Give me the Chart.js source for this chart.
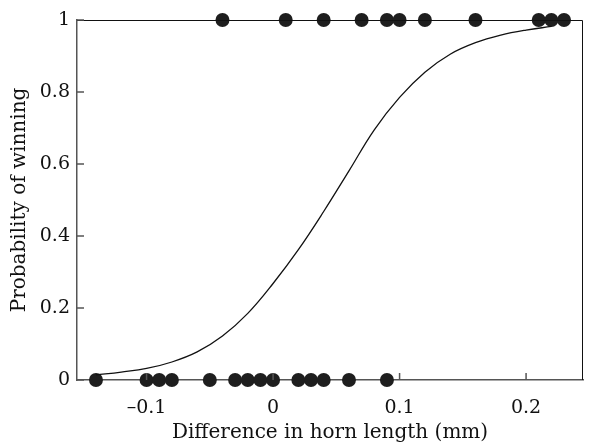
<!DOCTYPE html>
<html>
<head>
<meta charset="utf-8">
<script src="https://cdn.jsdelivr.net/npm/chart.js@4.4.1/dist/chart.umd.min.js"></script>
<style>
  html, body { margin: 0; padding: 0; background: #fff; }
  #wrap { width: 590px; height: 448px; }
</style>
</head>
<body>
<div id="wrap"><canvas id="chart"></canvas></div>
<script>
// contests won (y = 1) and lost (y = 0), by horn length difference
const winX = [-0.04, 0.01, 0.04, 0.07, 0.09, 0.10, 0.12, 0.16, 0.21, 0.22, 0.23];
const loseX = [-0.14, -0.10, -0.09, -0.08, -0.05, -0.03, -0.02, -0.01, 0, 0.02, 0.03, 0.04, 0.06, 0.09];

// fitted curve
const curveX = [-0.14, -0.12, -0.10, -0.08, -0.06, -0.04, -0.02, 0, 0.02, 0.04, 0.06, 0.08, 0.10, 0.12, 0.14, 0.16, 0.18, 0.20, 0.22];
const curveP = [0.014, 0.022, 0.032, 0.050, 0.078, 0.122, 0.185, 0.268, 0.362, 0.468, 0.581, 0.695, 0.785, 0.855, 0.905, 0.937, 0.958, 0.972, 0.982];

const xTicks = [-0.1, 0, 0.1, 0.2];
const yTicks = [0, 0.2, 0.4, 0.6, 0.8, 1];

const serif = "'DejaVu Serif', serif";

// top/right frame and inward tick marks
const framePlugin = {
  id: "frame",
  afterDraw(chart) {
    const ctx = chart.ctx;
    const a = chart.chartArea;
    const xs = chart.scales.x, ys = chart.scales.y;
    ctx.save();
    ctx.strokeStyle = "#111";
    ctx.lineWidth = 1;
    ctx.beginPath();
    ctx.moveTo(a.left, a.top + 0.5);
    ctx.lineTo(a.right - 0.5, a.top + 0.5);
    ctx.lineTo(a.right - 0.5, a.bottom);
    ctx.stroke();
    ctx.strokeStyle = "#555";
    ctx.lineWidth = 1.5;
    ctx.beginPath();
    xTicks.forEach(v => {
      const px = xs.getPixelForValue(v);
      ctx.moveTo(px, a.bottom);
      ctx.lineTo(px, a.bottom - 7);
    });
    yTicks.forEach(v => {
      const py = ys.getPixelForValue(v);
      ctx.moveTo(a.left, py);
      ctx.lineTo(a.left + 7, py);
    });
    ctx.stroke();
    ctx.restore();
  }
};

new Chart(document.getElementById("chart"), {
  type: "scatter",
  data: {
    datasets: [
      {
        type: "line",
        data: curveX.map((x, i) => ({ x: x, y: curveP[i] })),
        borderColor: "#111",
        borderWidth: 1.3,
        pointRadius: 0,
        tension: 0.4,
        fill: false
      },
      {
        data: winX.map(x => ({ x: x, y: 1 })),
        backgroundColor: "#1e1e1e",
        borderWidth: 0,
        pointRadius: 7
      },
      {
        data: loseX.map(x => ({ x: x, y: 0 })),
        backgroundColor: "#1e1e1e",
        borderWidth: 0,
        pointRadius: 7
      }
    ]
  },
  options: {
    responsive: true,
    maintainAspectRatio: false,
    animation: false,
    clip: false,
    layout: { padding: { top: 20, right: 7, left: 0, bottom: 0 } },
    plugins: { legend: { display: false }, tooltip: { enabled: false } },
    scales: {
      x: {
        type: "linear",
        min: -0.155,
        max: 0.245,
        afterBuildTicks: s => { s.ticks = xTicks.map(v => ({ value: v })); },
        afterFit: s => { s.height = 68; },
        grid: { drawOnChartArea: false, drawTicks: false },
        border: { color: "#555", width: 1.5 },
        ticks: {
          padding: 17,
          color: "#111",
          font: { family: serif, size: 19 },
          callback: v => (v < 0 ? "\u2013" + String(-v) : String(v))
        },
        title: {
          display: true,
          text: "Difference in horn length (mm)",
          color: "#111",
          font: { family: serif, size: 20 },
          padding: { top: 0, bottom: 3 }
        }
      },
      y: {
        min: 0,
        max: 1,
        afterBuildTicks: s => { s.ticks = yTicks.map(v => ({ value: v })); },
        afterFit: s => { s.width = 77; },
        grid: { drawOnChartArea: false, drawTicks: false },
        border: { color: "#555", width: 1.5 },
        ticks: {
          padding: 7,
          color: "#111",
          font: { family: serif, size: 19 },
          callback: v => String(v)
        },
        title: {
          display: true,
          text: "Probability of winning",
          color: "#111",
          font: { family: serif, size: 20 },
          padding: { top: 8, bottom: 0 }
        }
      }
    }
  },
  plugins: [framePlugin]
});
</script>
</body>
</html>
